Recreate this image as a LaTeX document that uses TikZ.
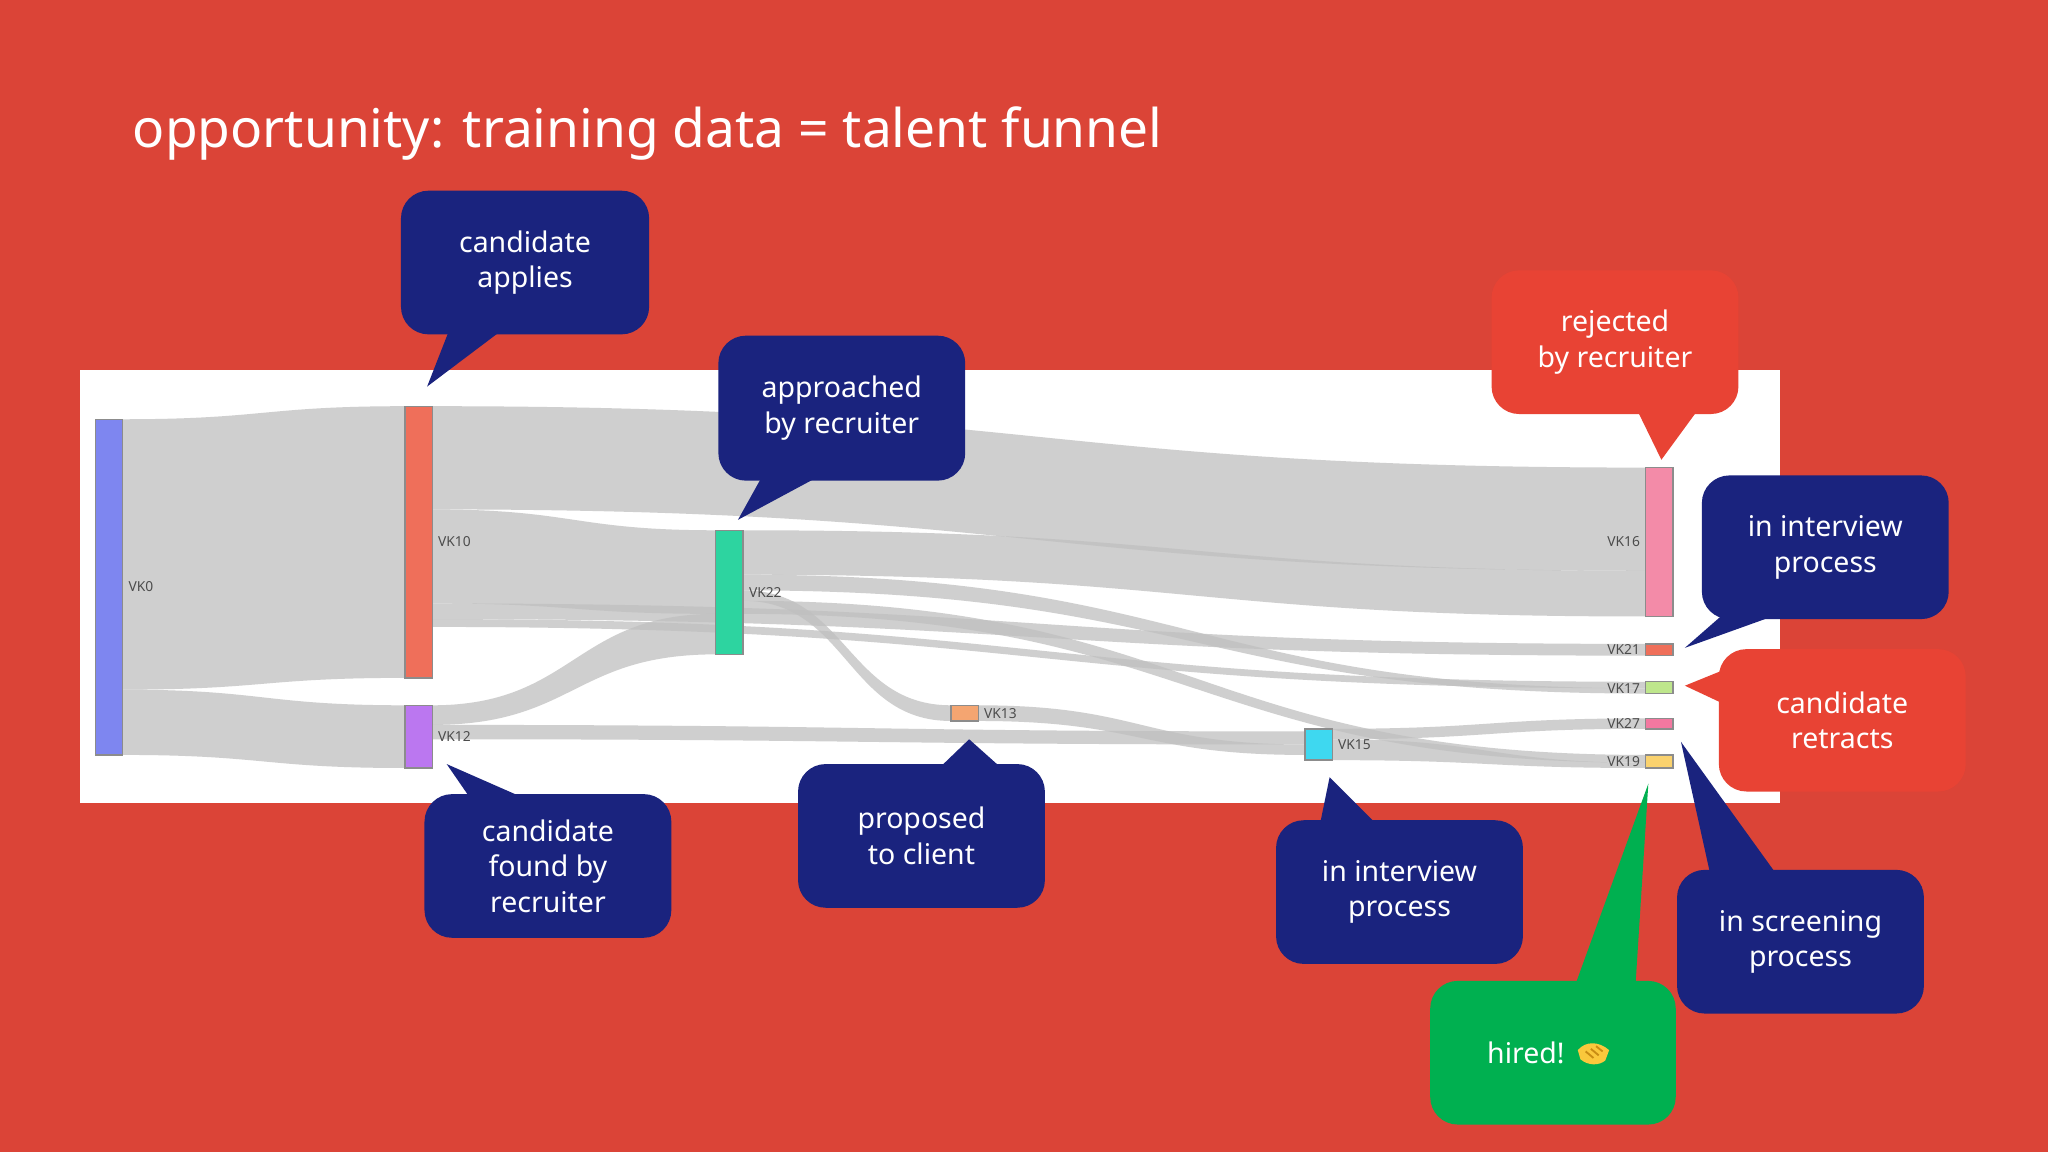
\documentclass[tikz,border=0pt]{standalone}
\usepackage{fontspec}
\setmainfont{Noto Sans}
\begin{document}
\begin{tikzpicture}[x=0.01cm,y=-0.01cm,
  bar/.style={draw=black!45,line width=0.3pt},
  lab/.style={font=\fontsize{3}{3.5}\selectfont,text=black!70,inner sep=0.5pt},
  bubble/.style={rounded corners=6,draw=none},
  btext/.style={text=white,align=center,font=\fontsize{6.2}{7.7}\selectfont}]
\definecolor{bg}{RGB}{219,68,55}
\definecolor{navy}{RGB}{26,35,126}
\definecolor{cred}{RGB}{232,67,52}
\definecolor{cgreen}{RGB}{0,176,80}
\definecolor{hsfill}{RGB}{250,200,60}
\definecolor{hsline}{RGB}{200,140,20}
\newcommand\band[6]{\fill[black!25,opacity=0.75] (#1,#2) .. controls ({(#1+#4)/2},#2) and ({(#1+#4)/2},#5) .. (#4,#5) -- (#4,#6) .. controls ({(#1+#4)/2},#6) and ({(#1+#4)/2},#3) .. (#1,#3) -- cycle;}
\fill[bg] (0,0) rectangle (1568,882);
\useasboundingbox (0,0) rectangle (1568,882);
\node[anchor=west,text=white,font=\fontsize{11.6}{14}\selectfont,inner sep=0] (title) at (101,102) {opportunity: training data = talent funnel};
\fill[white] (61,283) rectangle (1363,615);
% links
\band{94}{321}{528}{310}{311}{519}
\band{94}{528}{578}{310}{540}{588}
\band{331}{311}{390}{1260}{358}{437}
\band{331}{390}{462}{548}{406}{470}
\band{569}{406}{440}{1260}{437}{472}
\band{331}{462}{474}{1260}{493}{502}
\band{331}{474}{480}{1260}{522}{527}
\band{331}{540}{555}{548}{470}{501}
\band{331}{555}{566}{999}{560}{570}
\band{569}{440}{452}{1260}{527}{531}
\band{569}{452}{460}{728}{540}{552}
\band{569}{460}{470}{1260}{578}{584}
\band{749}{540}{552}{999}{570}{578}
\band{1020}{558}{566}{1260}{550}{558}
\band{1020}{566}{582}{1260}{584}{588}
% nodes
\fill[bar,fill={rgb,255:red,126;green,134;blue,240}] (73,321) rectangle (94,578); \node[lab,anchor=west] (vk0) at (96,449) {VK0};
\fill[bar,fill={rgb,255:red,239;green,111;blue,90}] (310,311) rectangle (331,519); \node[lab,anchor=west] (vk10) at (333,415) {VK10};
\fill[bar,fill={rgb,255:red,187;green,119;blue,240}] (310,540) rectangle (331,588); \node[lab,anchor=west] (vk12) at (333,564) {VK12};
\fill[bar,fill={rgb,255:red,45;green,212;blue,160}] (548,406) rectangle (569,501); \node[lab,anchor=west] (vk22) at (571,454) {VK22};
\fill[bar,fill={rgb,255:red,244;green,165;blue,113}] (728,540) rectangle (749,552); \node[lab,anchor=west] (vk13) at (751,546) {VK13};
\fill[bar,fill={rgb,255:red,62;green,216;blue,240}] (999,558) rectangle (1020,582); \node[lab,anchor=west] (vk15) at (1022,570) {VK15};
\fill[bar,fill={rgb,255:red,243;green,139;blue,168}] (1260,358) rectangle (1281,472); \node[lab,anchor=east] (vk16) at (1258,415) {VK16};
\fill[bar,fill={rgb,255:red,239;green,111;blue,90}] (1260,493) rectangle (1281,502); \node[lab,anchor=east] (vk21) at (1258,497) {VK21};
\fill[bar,fill={rgb,255:red,190;green,230;blue,140}] (1260,522) rectangle (1281,531); \node[lab,anchor=east] (vk17) at (1258,527) {VK17};
\fill[bar,fill={rgb,255:red,243;green,120;blue,160}] (1260,550) rectangle (1281,558); \node[lab,anchor=east] (vk27) at (1258,554) {VK27};
\fill[bar,fill={rgb,255:red,250;green,210;blue,110}] (1260,578) rectangle (1281,588); \node[lab,anchor=east] (vk19) at (1258,583) {VK19};
% callouts
\newcommand\callout[8]{\fill[#1,bubble] (#2,#3) rectangle (#4,#5); \fill[#1] #6; \node[btext] (#7) at ({(#2+#4)/2},{(#3+#5)/2}) {#8};}
\callout{navy}{307}{146}{497}{256}{(345,250) -- (388,250) -- (327,296) -- cycle}{c1}{candidate\\applies}
\callout{navy}{550}{257}{739}{368}{(585,362) -- (632,362) -- (565,398) -- cycle}{c2}{approached\\by recruiter}
\callout{cred}{1142}{207}{1331}{317}{(1252,311) -- (1302,311) -- (1272,352) -- cycle}{c3}{rejected\\by recruiter}
\callout{navy}{1303}{364}{1492}{474}{(1322,468) -- (1368,468) -- (1290,496) -- cycle}{c4}{in interview\\process}
\callout{cred}{1316}{497}{1505}{606}{(1322,512) -- (1322,540) -- (1290,525) -- cycle}{c5}{candidate\\retracts}
\callout{navy}{1284}{666}{1473}{776}{(1310,672) -- (1362,672) -- (1287,568) -- cycle}{c6}{in screening\\process}
\callout{cgreen}{1095}{751}{1283}{861}{(1205,757) -- (1252,757) -- (1262,600) -- cycle}{c7}{hired!\hspace{1.9em}}
% handshake symbol
\begin{scope}[shift={(1220,806)}]
\fill[hsfill] (-12,-2) .. controls (-6,-9) and (4,-9) .. (12,-2) -- (9,6) .. controls (4,10) and (-4,10) .. (-10,5) -- cycle;
\draw[hsline,line width=0.4pt] (-6,-1) -- (0,4) (-2,-3) -- (4,2) (2,-5) -- (7,-1);
\end{scope}
\callout{navy}{611}{585}{800}{695}{(716,591) -- (770,591) -- (742,566) -- cycle}{c8}{proposed\\to client}
\callout{navy}{977}{628}{1166}{738}{(1010,634) -- (1057,634) -- (1018,595) -- cycle}{c9}{in interview\\process}
\callout{navy}{325}{608}{514}{718}{(362,614) -- (408,614) -- (342,585) -- cycle}{c10}{candidate\\found by\\recruiter}
\end{tikzpicture}
\end{document}
